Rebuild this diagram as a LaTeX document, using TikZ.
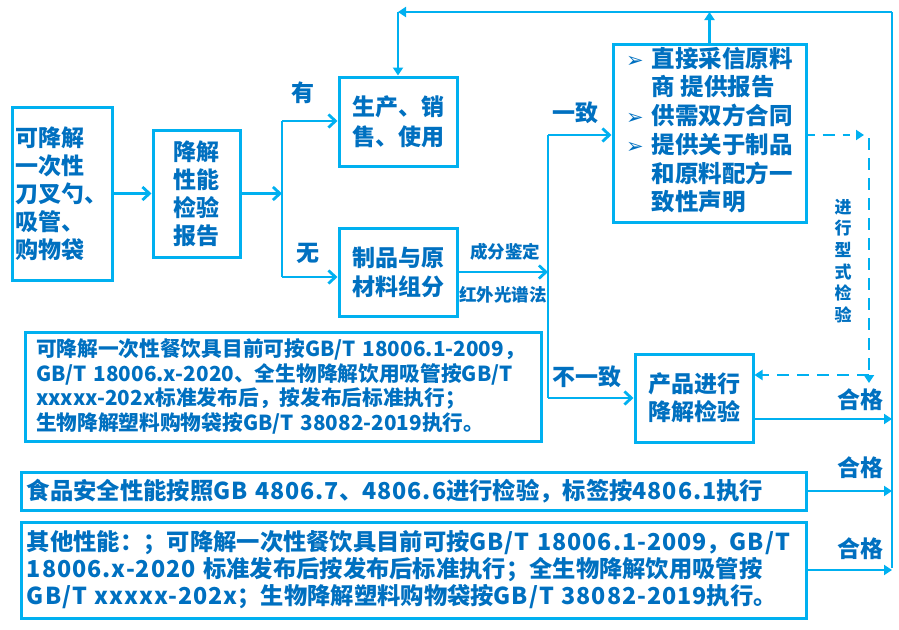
\documentclass[tikz,border=0pt]{standalone}
\usepackage{fontspec}
\setmainfont{Noto Sans CJK SC}
\newfontfamily\dejavu{DejaVu Sans}
\usepackage{xcolor}
\usetikzlibrary{positioning,calc,arrows.meta}
\definecolor{linec}{HTML}{00B0F0}
\definecolor{textc}{HTML}{0070C0}
\newcommand{\bul}{{\dejavu\fontsize{21}{21}\selectfont ➢}}
\newcommand{\lat}[1]{{\addfontfeatures{LetterSpace=4}#1}}
\newcommand{\fs}[2]{\fontsize{#1}{#2}\selectfont\bfseries}

\begin{document}
\begin{tikzpicture}[x=1pt, y=-1pt,
    box/.style={draw=linec, line width=3pt, text=textc, inner sep=0pt, font=\fs{23}{28}},
    lbl/.style={text=textc, inner sep=0pt, font=\fs{23}{28}},
    arr/.style={draw=linec, line width=2.8pt, -{Straight Barb[length=7pt,width=13pt]}},
    arrtri/.style={draw=linec, line width=2.8pt, -{Triangle[length=8pt,width=10pt]}},
    bus/.style={draw=linec, line width=2.8pt},
    darr/.style={draw=linec, line width=2.8pt, dash pattern=on 12pt off 8pt, -{Triangle[length=8pt,width=10pt]}}]
    \useasboundingbox (0,0) rectangle (899,629);

    % first row of boxes
    \node [box, minimum width=100, minimum height=173, align=left] (item) at (62,193.5) {可降解\\一次性\\刀叉勺、\\吸管、\\购物袋};
    \node [box, minimum width=87, minimum height=127, align=center] (report) at (196.5,193.5) {降解\\性能\\检验\\报告};
    \node [box, minimum width=118, minimum height=89, align=left, font=\fs{23}{30}] (sale) at (398,121.5) {生产、销\\售、使用};
    \node [box, minimum width=118, minimum height=88, align=left, font=\fs{23}{29}] (comp) at (398,272) {制品与原\\材料组分};
    \node [box, minimum width=193, minimum height=178, font=\fs{23.5}{28}] (docs) at (709.5,133) {%
        \begin{tabular}{@{}l@{\hspace{8pt}}l@{}}
        \bul & 直接采信原料\\
             & 商 提供报告\\
        \bul & 供需双方合同\\
        \bul & 提供关于制品\\
             & 和原料配方一\\
             & 致性声明
        \end{tabular}};
    \node [box, minimum width=118, minimum height=88, align=left] (test) at (694,398) {产品进行\\降解检验};

    % standard boxes
    \node [box, minimum width=516, minimum height=109, text width=494, align=left, font=\fs{20.7}{24.5}] (std) at (283,386.5) {可降解一次性餐饮具目前可按GB/T 18006.1-2009，\\GB/T 18006.x-2020、全生物降解饮用吸管按GB/T\\xxxxx-202x标准发布后，按发布后标准执行；\\生物降解塑料购物袋按GB/T 38082-2019执行。};
    \node [box, minimum width=785, minimum height=38, text width=773, align=left, font=\fs{23.3}{28}] (food) at (413.5,491) {食品安全性能按照\lat{GB 4806.7}、\lat{4806.6}进行检验，标签按\lat{4806.1}执行};
    \node [box, minimum width=785, minimum height=96, text width=773, align=left, font=\fs{23.3}{27}] (other) at (413.5,570) {其他性能：；可降解一次性餐饮具目前可按\lat{GB/T 18006.1-2009}，\lat{GB/T}\\\lat{18006.x-2020} 标准发布后按发布后标准执行；全生物降解饮用吸管按\\\lat{GB/T xxxxx-202x}；生物降解塑料购物袋按\lat{GB/T 38082-2019}执行。};

    % branch points
    \coordinate (forkt) at (282,121);
    \coordinate (forkb) at (282,277);
    \coordinate (splitt) at (548,135);
    \coordinate (splitb) at (548,398);
    \coordinate (topl) at (398,12);
    \coordinate (topr) at (892,12);
    \coordinate (busb) at (892,568);
    \coordinate (dtop) at (869,135);
    \coordinate (dbot) at (869,375);

    \draw [arr] (item) -- (report);
    \draw [arr] (report.east) -- (report.east -| forkt);
    \draw [bus] (forkt) -- (forkb);
    \draw [arr] (forkt) -- (forkt -| sale.west);
    \draw [arr] (forkb) -- (forkb -| comp.west);
    \node [lbl] (yes) at (303,93) {有};
    \node [lbl] (no) at (308,253) {无};

    \draw [arr] (comp.east) -- (comp.east -| splitt);
    \node [lbl, font=\fs{17.5}{20}] (ident) at (505,252) {成分鉴定};
    \node [lbl, font=\fs{17.5}{20}] (ir) at (503,295) {红外光谱法};
    \draw [bus] (splitt) -- (splitb);
    \draw [arr] (splitt) -- (splitt -| docs.west);
    \draw [arr] (splitb) -- (splitb -| test.west);
    \node [lbl] (same) at (575,113) {一致};
    \node [lbl] (diff) at (587,377) {不一致};

    % loop back along the top
    \draw [bus] (busb) -- (topr);
    \draw [arrtri] (topr) -- (topl);
    \draw [arrtri] (topl) -- (sale.north);
    \draw [arrtri] (docs.north) -- (docs.north |- topr);

    % type test, dashed
    \draw [darr, dash pattern=on 7pt off 8pt on 12pt off 8pt] (docs.east |- dtop) -- ([xshift=-5pt]dtop);
    \draw [darr] ([yshift=-3pt]dtop) -- ([yshift=-8pt]dbot);
    \draw [darr] (dbot) -- (dbot -| test.east);
    \node [lbl, align=center, font=\fs{17}{21.7}] (type) at (843,261) {进\\行\\型\\式\\检\\验};

    % passed
    \draw [arrtri] (test.east |- 0,419) -- (busb |- 0,419);
    \draw [arrtri] (food.east) -- (food.east -| busb);
    \draw [arrtri] (other.east) -- (other.east -| busb);
    \node [lbl] (pass1) at (860,400) {合格};
    \node [lbl] (pass2) at (860,468) {合格};
    \node [lbl] (pass3) at (860,549) {合格};
\end{tikzpicture}
\end{document}
